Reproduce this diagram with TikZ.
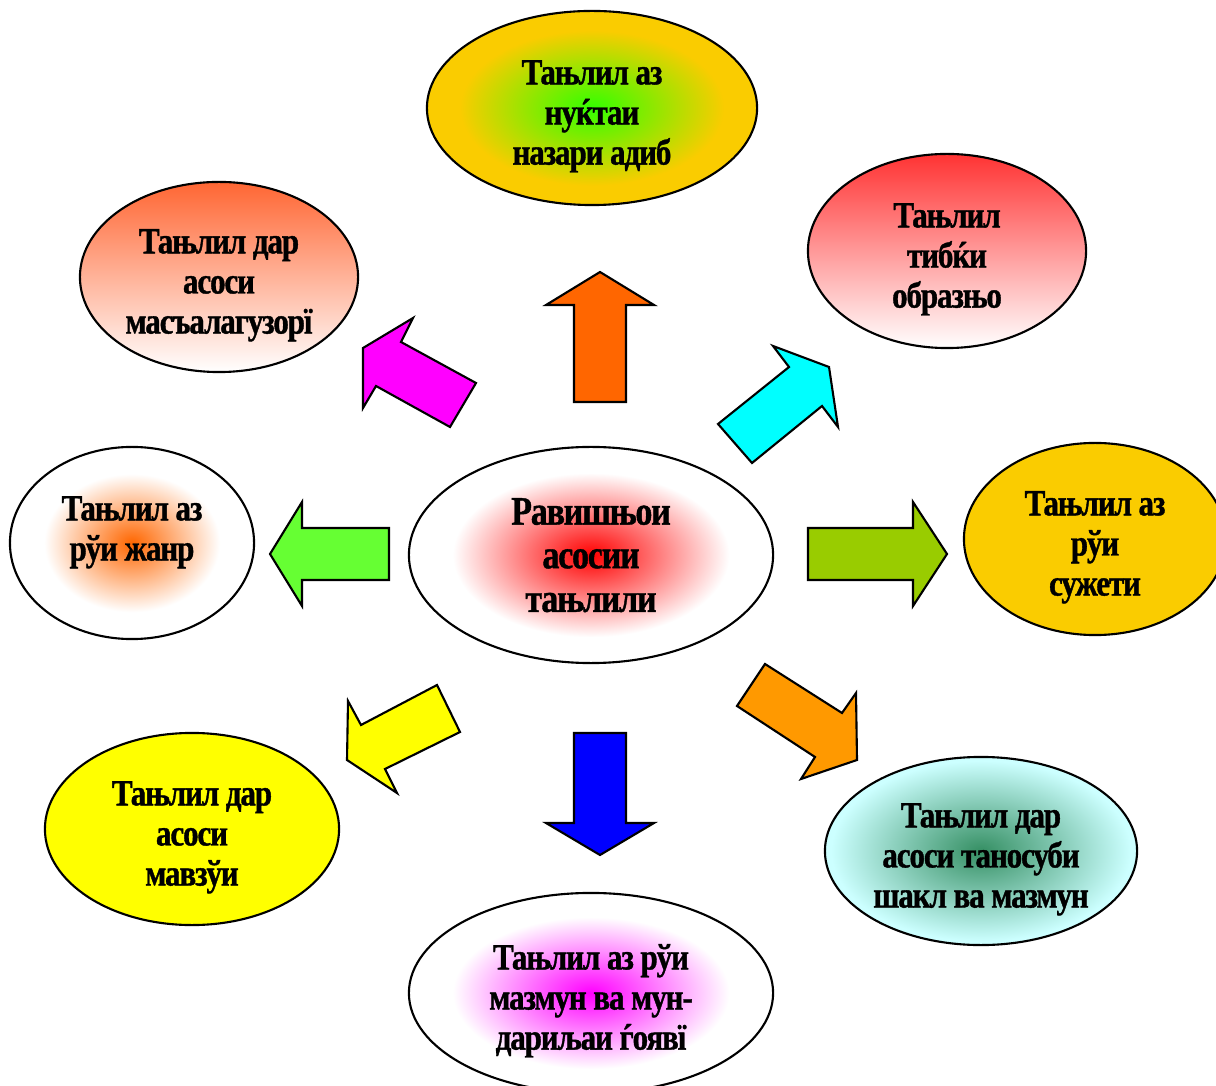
\documentclass[tikz,border=0pt]{standalone}
\usepackage{fontspec}
\setmainfont{Liberation Serif}[FakeStretch=0.84,LetterSpace=-3,BoldFeatures={FakeBold=1}]
\usepackage{xcolor}
\usetikzlibrary{shapes.geometric}

\definecolor{gold}{HTML}{FACC00}
\definecolor{leaf}{HTML}{33FF00}
\definecolor{flame}{HTML}{FF6633}
\definecolor{scarlet}{HTML}{FF3333}
\definecolor{seagreen}{HTML}{358F63}
\definecolor{icecyan}{HTML}{CCFFFF}
\definecolor{olive}{HTML}{99CC00}
\definecolor{lime}{HTML}{66FF33}
\definecolor{amber}{HTML}{FF9900}
\definecolor{orangered}{HTML}{FF6600}
\definecolor{pink}{HTML}{FF00FF}
\definecolor{aqua}{HTML}{00FFFF}
\definecolor{lemon}{HTML}{FFFF00}
\definecolor{royal}{HTML}{0000FF}
\definecolor{hotred}{HTML}{FF0000}

\pgfdeclareradialshading{spotgreen}{\pgfpoint{0bp}{0bp}}{color(0bp)=(leaf); color(20bp)=(gold); color(50bp)=(gold)}
\pgfdeclareradialshading{spotred}{\pgfpoint{0bp}{0bp}}{color(0bp)=(hotred); color(19bp)=(white); color(50bp)=(white)}
\pgfdeclareradialshading{spotflame}{\pgfpoint{0bp}{0bp}}{color(0bp)=(orangered); color(18bp)=(white); color(50bp)=(white)}
\pgfdeclareradialshading{spotmagenta}{\pgfpoint{0bp}{0bp}}{color(0bp)=(pink); color(19bp)=(white); color(50bp)=(white)}
\pgfdeclareradialshading{spotsea}{\pgfpoint{0bp}{0bp}}{color(0bp)=(seagreen); color(24bp)=(icecyan); color(50bp)=(icecyan)}

\tikzset{
  topic/.style={ellipse, draw, line width=0.6pt, inner sep=0pt, align=center, text height=1.21cm,
    font=\bfseries\fontsize{10.5}{11.4}\selectfont},
  blockarrow/.style={draw, line width=0.6pt, line join=miter}
}

\begin{document}
\begin{tikzpicture}[x=0.01cm,y=-0.01cm]
  \useasboundingbox (0,0) rectangle (1216,1086);

  % ellipses
  \node[topic, minimum width=3.64cm, minimum height=2.16cm, shading=spotred, text height=1.14cm,
    font=\bfseries\fontsize{11.5}{12.4}\selectfont] (center) at (591,555)
    {Равишњои\\асосии\\тањлили};
  \node[topic, minimum width=3.30cm, minimum height=1.94cm, shading=spotgreen] (adib) at (592,108)
    {Тањлил аз\\нуќтаи\\назари адиб};
  \node[topic, minimum width=2.78cm, minimum height=1.90cm, top color=flame, bottom color=white] (masala) at (219,277)
    {Тањлил дар\\асоси\\масъалагузорї};
  \node[topic, minimum width=2.78cm, minimum height=1.94cm, top color=scarlet, bottom color=white] (obraz) at (947,251)
    {Тањлил\\тибќи\\образњо};
  \node[topic, minimum width=2.44cm, minimum height=1.92cm, shading=spotflame, text height=0.65cm, text depth=0.3cm] (zhanr) at (132,543)
    {Тањлил аз\\рўи жанр};
  \node[topic, minimum width=2.62cm, minimum height=1.92cm, fill=gold] (syuzhet) at (1095,539)
    {Тањлил аз\\рўи\\сужети};
  \node[topic, minimum width=2.94cm, minimum height=1.92cm, fill=lemon] (mavzu) at (192,829)
    {Тањлил дар\\асоси\\мавзўи};
  \node[topic, minimum width=3.12cm, minimum height=1.88cm, shading=spotsea] (shakl) at (981,851)
    {Тањлил дар\\асоси таносуби\\шакл ва мазмун};
  \node[topic, minimum width=3.64cm, minimum height=2.00cm, shading=spotmagenta] (mazmun) at (591,993)
    {Тањлил аз рўи\\мазмун ва мун-\\дариљаи ѓоявї};

  % block arrows
  \filldraw[blockarrow, fill=orangered] (574,402) -- (574,305) -- (546,305) -- (600,272) -- (654,305) -- (626,305) -- (626,402) -- cycle;
  \filldraw[blockarrow, fill=royal] (574,733) -- (574,823) -- (546,823) -- (600,855) -- (654,823) -- (626,823) -- (626,733) -- cycle;
  \filldraw[blockarrow, fill=lime] (389,528) -- (302,528) -- (302,502) -- (270,554) -- (302,606) -- (302,580) -- (389,580) -- cycle;
  \filldraw[blockarrow, fill=olive] (808,528) -- (913,528) -- (913,502) -- (947,554) -- (913,606) -- (913,580) -- (808,580) -- cycle;
  \filldraw[blockarrow, fill=pink] (413,318) -- (363,348) -- (363,408) -- (376,386) -- (450,427) -- (476,383) -- (401,342) -- cycle;
  \filldraw[blockarrow, fill=aqua] (773,346) -- (829,367) -- (838,427) -- (822,406) -- (752,463) -- (718,424) -- (789,367) -- cycle;
  \filldraw[blockarrow, fill=lemon] (437,685) -- (460,732) -- (385,769) -- (397,793) -- (347,760) -- (348,701) -- (361,725) -- cycle;
  \filldraw[blockarrow, fill=amber] (765,664) -- (842,713) -- (856,693) -- (857,760) -- (801,779) -- (815,757) -- (737,706) -- cycle;
\end{tikzpicture}
\end{document}
